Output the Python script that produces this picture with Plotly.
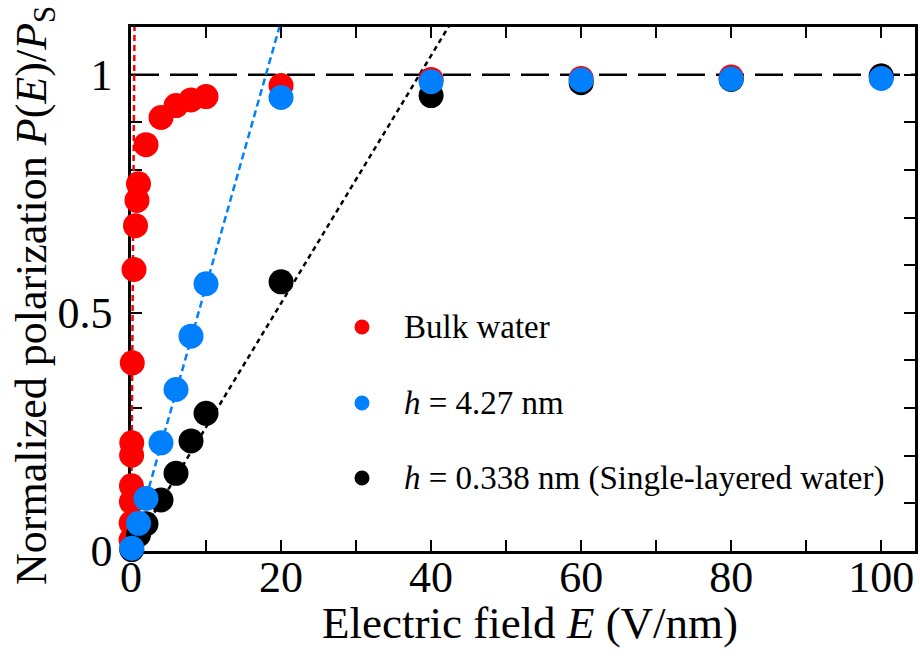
import plotly.graph_objects as go

# Electric field E (V/nm) and normalized polarization P(E)/P_S
bulk_E = [0.01, 0.025, 0.045, 0.06, 0.085, 0.1, 0.17, 0.4, 0.6, 0.8, 1, 2, 4, 6, 8, 10, 20, 40, 60, 80, 100]
bulk_P = [0.023, 0.059, 0.103, 0.137, 0.201, 0.227, 0.395, 0.591, 0.683, 0.736, 0.771,
          0.853, 0.910, 0.935, 0.947, 0.954, 0.977, 0.990, 0.992, 0.995, 0.997]

h427_E = [0.1, 1, 2, 4, 6, 8, 10, 20, 40, 60, 80, 100]
h427_P = [0.006, 0.058, 0.110, 0.227, 0.339, 0.451, 0.561, 0.952, 0.985, 0.989, 0.991, 0.992]

h0338_E = [0.1, 1, 2, 4, 6, 8, 10, 20, 40, 60, 80, 100]
h0338_P = [0.003, 0.034, 0.057, 0.107, 0.163, 0.231, 0.289, 0.565, 0.956, 0.983, 0.990, 0.997]

# Slopes of the linear low-field fits, P/P_S per (V/nm)
fit_slope_bulk = 2.35
fit_slope_h427 = 0.0556
fit_slope_h0338 = 0.026

series_names = ["Bulk water", "<i>h</i> = 4.27 nm", "<i>h</i> = 0.338 nm (Single-layered water)"]
series_colors = ["#FF0000", "#0080FF", "#000000"]

x_tick_vals = list(range(0, 101, 10))
x_tick_text = [str(v) if v % 20 == 0 else "" for v in x_tick_vals]
y_tick_vals = [i / 10 for i in range(11)]
y_tick_text = ["0", "", "", "", "", "0.5", "", "", "", "", "1"]

x_title = "Electric field <i>E</i> (V/nm)"
y_title = "Normalized polarization <i>P</i>(<i>E</i>)/<i>P</i><sub>S</sub>"

FONT = "Liberation Serif"
X_MAX, Y_MAX = 104.5, 1.1

fig = go.Figure()

# Linear fits through the origin, clipped at the top of the frame
fits = [(fit_slope_bulk, series_colors[0], "6px,4px"),
        (fit_slope_h427, series_colors[1], "7px,4px"),
        (fit_slope_h0338, series_colors[2], "5px,4px")]
for slope, color, dash in fits:
    x_end = 1.2 / slope
    fig.add_trace(go.Scatter(
        x=[0, x_end], y=[0, slope * x_end], mode="lines",
        line=dict(color=color, width=2.5, dash=dash),
        showlegend=False, hoverinfo="skip"))

# Data points: bulk first, then single layer, with h = 4.27 nm on top
point_sets = [(bulk_E, bulk_P, 0), (h0338_E, h0338_P, 2), (h427_E, h427_P, 1)]
for xs, ys, idx in point_sets:
    fig.add_trace(go.Scatter(
        x=xs, y=ys, mode="markers", name=series_names[idx],
        marker=dict(color=series_colors[idx], size=25, line=dict(width=0)),
        cliponaxis=False, showlegend=False))

# Saturation level P = P_S
fig.add_shape(type="line", xref="x domain", yref="y", x0=0, x1=1, y0=1, y1=1,
              line=dict(color="black", width=2.5, dash="28px,11px"), layer="below")

# Frame geometry in pixels
L, R, T, B = 131, 5, 27, 119
W, H = 920, 670
pw, ph = W - L - R, H - T - B


def px_to_paper(px, py):
    return (px - L) / pw, (H - B - py) / ph


# Legend drawn as dots plus labels inside the frame
legend_rows_px = [327, 403, 478]
dot_px, text_px = 362, 402
for name, color, row in zip(series_names, series_colors, legend_rows_px):
    dx, dy = px_to_paper(dot_px, row)
    tx, _ = px_to_paper(text_px, row)
    fig.add_shape(type="circle", xref="paper", yref="paper",
                  xsizemode="pixel", ysizemode="pixel",
                  xanchor=dx, yanchor=dy,
                  x0=-7.5, x1=7.5, y0=-7.5, y1=7.5,
                  fillcolor=color, line=dict(width=0))
    fig.add_annotation(x=tx, y=dy, xref="paper", yref="paper",
                       xanchor="left", yanchor="middle", showarrow=False,
                       text=name, font=dict(family=FONT, size=33, color="black"))

# Axis titles
xt_x, xt_y = px_to_paper(530, 623)
fig.add_annotation(x=xt_x, y=xt_y, xref="paper", yref="paper",
                   xanchor="center", yanchor="middle", showarrow=False,
                   text=x_title, font=dict(family=FONT, size=45, color="black"))
yt_x, yt_y = px_to_paper(35, 296)
fig.add_annotation(x=yt_x, y=yt_y, xref="paper", yref="paper", textangle=-90,
                   xanchor="center", yanchor="middle", showarrow=False,
                   text=y_title, font=dict(family=FONT, size=44, color="black"))

axis_common = dict(
    showline=True, linecolor="black", linewidth=2.5, mirror="ticks",
    ticks="inside", ticklen=11, tickwidth=2, tickcolor="black",
    showgrid=False, zeroline=False, layer="below traces",
    tickfont=dict(family=FONT, size=44, color="black"),
)

fig.update_xaxes(
    range=[0, X_MAX], tickmode="array", tickvals=x_tick_vals, ticktext=x_tick_text,
    ticklabelstandoff=-15, **axis_common)
fig.update_yaxes(
    range=[0, Y_MAX], tickmode="array", tickvals=y_tick_vals, ticktext=y_tick_text,
    ticklabelstandoff=7, **axis_common)

fig.update_layout(
    width=W, height=H, margin=dict(l=L, r=R, t=T, b=B, autoexpand=False),
    paper_bgcolor="white", plot_bgcolor="white", showlegend=False,
    font=dict(family=FONT, color="black"),
)

fig.write_html("out.html")
